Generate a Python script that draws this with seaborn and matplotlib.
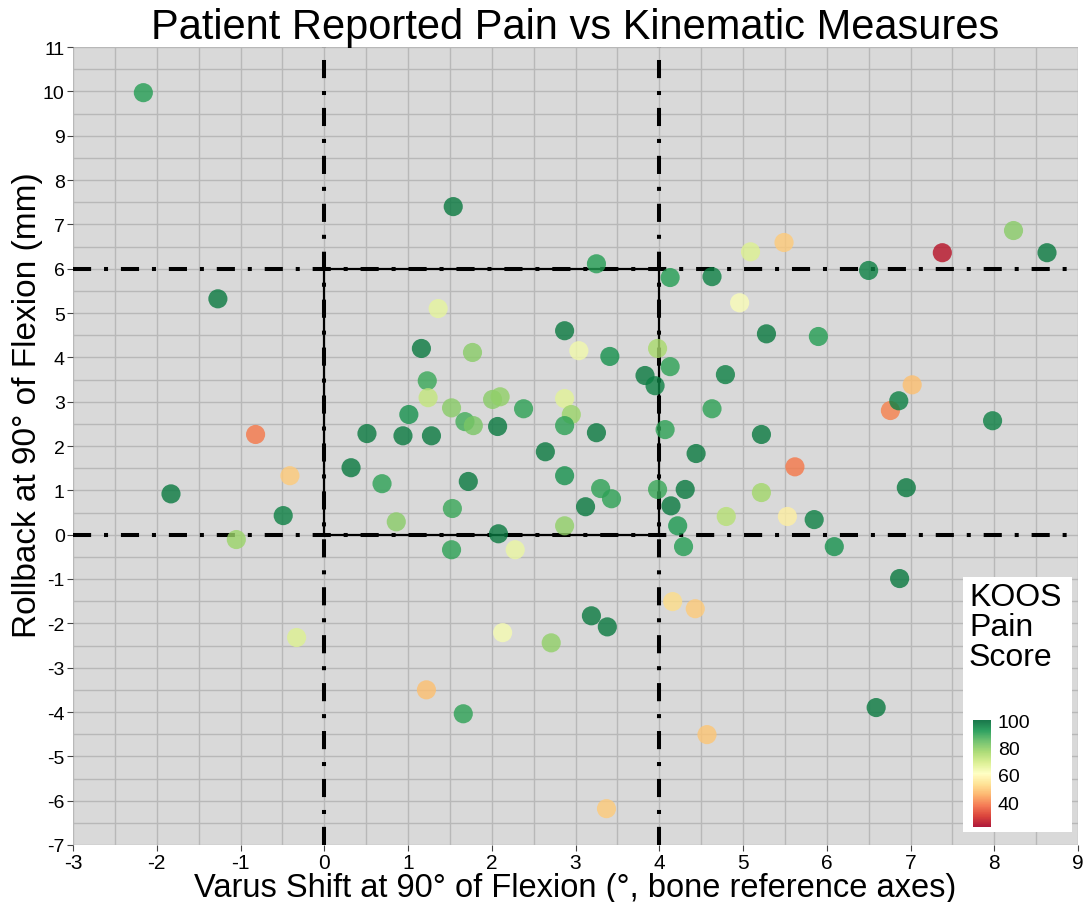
import numpy as np
import pandas as pd
import matplotlib
matplotlib.use('Agg')
import matplotlib.pyplot as plt
import seaborn as sns
from matplotlib.patches import Rectangle

# Data
varus_shift = [
    -2.16, 1.54, -1.27, -0.82, -1.83, -0.41, -1.05, -0.49, -0.33, 0.32,
    0.51, 0.69, 0.86, 0.94, 1.01, 1.16, 1.23, 1.24, 1.28, 1.36,
    1.52, 1.53, 1.52, 1.77, 1.68, 1.78, 1.72, 2.01, 2.10, 2.07,
    2.08, 2.38, 2.28, 2.13, 1.66, 1.22, 2.64, 2.87, 2.87, 2.95,
    2.87, 2.87, 2.87, 3.04, 3.30, 3.43, 3.12, 3.41, 3.25, 3.25,
    3.19, 3.38, 2.71, 3.37, 3.83, 3.95, 3.98, 4.13, 3.98, 4.13,
    4.07, 4.14, 4.31, 4.22, 4.29, 4.16, 4.43, 4.44, 4.63, 4.63,
    4.79, 4.80, 4.57, 5.09, 5.49, 4.96, 5.28, 5.22, 5.22, 5.53,
    5.62, 5.90, 5.85, 6.09, 6.50, 6.59, 6.76, 6.86, 7.02, 6.95,
    6.87, 7.38, 7.98, 8.23, 8.63,
]
rollback = [
    9.97, 7.40, 5.32, 2.26, 0.92, 1.33, -0.11, 0.43, -2.32, 1.51,
    2.28, 1.15, 0.29, 2.23, 2.71, 4.20, 3.47, 3.09, 2.23, 5.10,
    2.86, 0.59, -0.34, 4.11, 2.55, 2.46, 1.20, 3.05, 3.11, 2.44,
    0.02, 2.84, -0.34, -2.21, -4.04, -3.50, 1.87, 4.60, 3.07, 2.71,
    2.46, 1.33, 0.20, 4.15, 1.04, 0.81, 0.63, 4.02, 2.30, 6.11,
    -1.83, -2.08, -2.44, -6.18, 3.59, 3.36, 4.20, 3.79, 1.02, 5.80,
    2.37, 0.65, 1.02, 0.20, -0.27, -1.51, -1.67, 1.83, 5.82, 2.84,
    3.61, 0.41, -4.51, 6.38, 6.59, 5.23, 4.53, 2.26, 0.95, 0.41,
    1.53, 4.47, 0.34, -0.27, 5.96, -3.90, 2.80, 3.02, 3.38, 1.06,
    -0.99, 6.36, 2.57, 6.86, 6.36,
]
koos_pain = [
    91, 97, 97, 39, 97, 50, 78, 96, 68, 97,
    97, 90, 80, 97, 93, 97, 89, 72, 97, 66,
    80, 89, 90, 80, 88, 82, 97, 80, 79, 97,
    97, 90, 65, 63, 90, 48, 97, 97, 67, 78,
    90, 93, 79, 64, 90, 90, 97, 93, 97, 91,
    97, 97, 79, 50, 97, 96, 76, 90, 89, 91,
    90, 97, 97, 92, 91, 53, 50, 97, 96, 90,
    96, 74, 49, 68, 50, 62, 97, 97, 77, 57,
    39, 91, 96, 93, 96, 97, 40, 96, 48, 97,
    97, 25, 96, 80, 97,
]

x_ticks = list(range(-3, 10))
y_ticks = list(range(-7, 12))
zone_x = [0, 4]   # varus shift limits of the target zone
zone_y = [0, 6]   # rollback limits of the target zone
cbar_ticks = [40, 60, 80, 100]
koos_range = (22, 100)

df = pd.DataFrame({'varus': varus_shift, 'rollback': rollback, 'koos': koos_pain})

W, H = 1091, 903
fig = plt.figure(figsize=(W / 100, H / 100), dpi=100)
fig.patch.set_facecolor('white')

plt.rcParams['font.family'] = ['Liberation Sans', 'DejaVu Sans']
plt.rcParams['axes.unicode_minus'] = False

ax = fig.add_axes([73 / W, 1 - 846 / H, (1078 - 73) / W, (846 - 48) / H])
ax.set_facecolor('#d9d9d9')
ax.set_xlim(x_ticks[0], x_ticks[-1])
ax.set_ylim(y_ticks[0], y_ticks[-1])
ax.set_xticks(x_ticks)
ax.set_yticks(y_ticks)
ax.set_xticks(np.arange(x_ticks[0], x_ticks[-1], 0.5), minor=True)
ax.set_yticks(np.arange(y_ticks[0], y_ticks[-1], 0.5), minor=True)
ax.grid(True, which='both', color='#b8b8b8', lw=1.0, zorder=0)
ax.set_axisbelow(True)
ax.tick_params(which='minor', length=0)
ax.tick_params(which='major', length=4, color='#444444', pad=2)
ax.tick_params(axis='x', labelsize=15)
ax.tick_params(axis='y', labelsize=14)
for s in ax.spines.values():
    s.set_visible(False)

# dash-dot reference lines
dd = (0, (4.5, 3.2, 1.0, 3.2))
for xv in zone_x:
    ax.axvline(xv, color='black', lw=2.9, ls=dd, zorder=2)
for yv in zone_y:
    ax.axhline(yv, color='black', lw=2.9, ls=dd, zorder=2)
# solid target box
ax.plot([zone_x[0], zone_x[1], zone_x[1], zone_x[0], zone_x[0]],
        [zone_y[0], zone_y[0], zone_y[1], zone_y[1], zone_y[0]],
        color='black', lw=1.6, zorder=2)

sns.scatterplot(data=df, x='varus', y='rollback', hue='koos', palette='RdYlGn',
                hue_norm=koos_range, s=190, alpha=0.8, edgecolor='none',
                legend=False, ax=ax, zorder=3)

ax.set_title('Patient Reported Pain vs Kinematic Measures', fontsize=30, pad=3)
ax.set_xlabel('Varus Shift at 90° of Flexion (°, bone reference axes)', fontsize=23.5, labelpad=0)
ax.set_ylabel('Rollback at 90° of Flexion (mm)', fontsize=24)
ax.yaxis.set_label_coords(-0.030, 0.553)

# legend box
fig.patches.append(Rectangle((963 / W, 1 - 833 / H), (1072 - 963) / W, (833 - 578) / H,
                             transform=fig.transFigure, facecolor='white',
                             edgecolor='none', zorder=5))
fig.text(969 / W, 1 - 583 / H, 'KOOS\nPain\nScore', fontsize=23, va='top', ha='left',
         linespacing=1.0, zorder=6)

cax = fig.add_axes([973 / W, 1 - 828 / H, 18 / W, 107 / H])
cax.set_zorder(6)
sm = plt.cm.ScalarMappable(cmap='RdYlGn', norm=plt.Normalize(*koos_range))
cb = fig.colorbar(sm, cax=cax, ticks=cbar_ticks)
cb.outline.set_visible(False)
cb.solids.set_alpha(0.9)
cax.tick_params(length=0, labelsize=14, pad=5)

fig.savefig('out.png', dpi=100)
